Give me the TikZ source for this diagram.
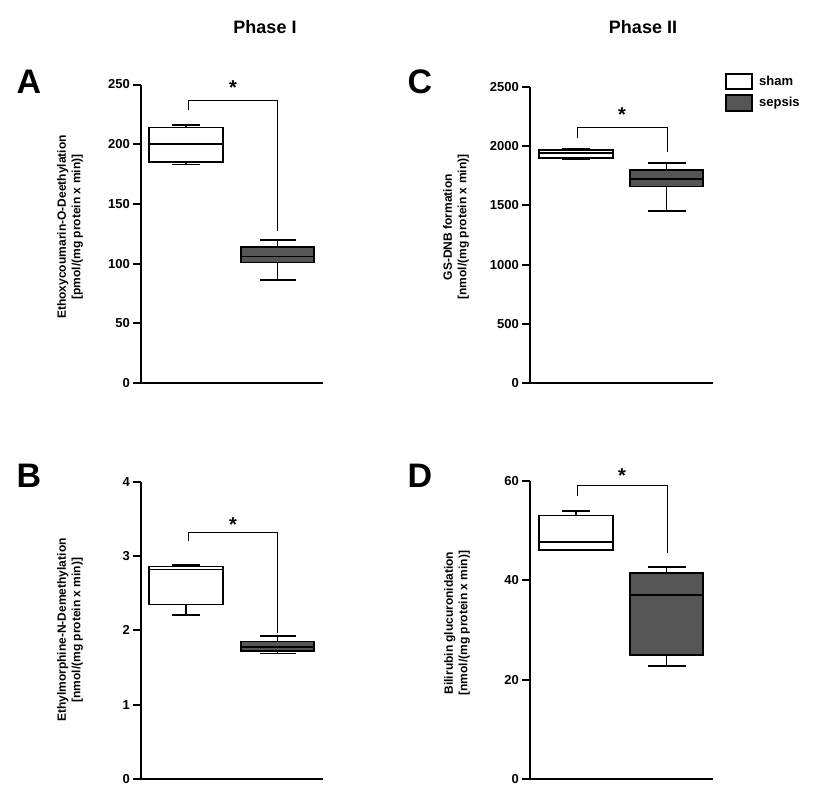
\documentclass[tikz,border=0pt]{standalone}
\usepackage{fontspec}
\setmainfont{Liberation Sans}
\usetikzlibrary{positioning}

\definecolor{sepsisgray}{HTML}{555555}

\tikzset{
  axis line/.style={line width=2pt},
  box line/.style={line width=1.8pt},
  bracket line/.style={line width=0.9pt},
  tick label/.style={anchor=east,font=\bfseries\fontsize{13}{13}\selectfont,inner sep=1pt},
  panel letter/.style={font=\bfseries\fontsize{34}{34}\selectfont},
  phase title/.style={font=\bfseries\fontsize{18}{18}\selectfont},
  axis title/.style={rotate=90,align=center,font=\bfseries\fontsize{12}{14.5}\selectfont},
  legend text/.style={anchor=west,font=\bfseries\fontsize{13}{13}\selectfont,inner sep=0pt}
}

% box plot: x0, x1, lower whisker, q1, median, q3, upper whisker, fill, cap half width
\newcommand{\bplot}[9]{%
  \draw[box line] ({(#1+#2)/2},#3) -- ({(#1+#2)/2},#7);
  \draw[box line] ({(#1+#2)/2-#9},#3) -- ({(#1+#2)/2+#9},#3);
  \draw[box line] ({(#1+#2)/2-#9},#7) -- ({(#1+#2)/2+#9},#7);
  \draw[box line,fill=#8] (#1,#4) rectangle (#2,#6);
  \draw[box line] (#1,#5) -- (#2,#5);
}

\begin{document}
\begin{tikzpicture}[x=1pt,y=-1pt]
  \useasboundingbox (0,0) rectangle (826,800);

  \node[phase title] (phaseI) at (265,27) {Phase I};
  \node[phase title] (phaseII) at (643,27) {Phase II};

  \node[panel letter] (A) at (29,82) {A};
  \node[panel letter] (B) at (29,476) {B};
  \node[panel letter] (C) at (420,82) {C};
  \node[panel letter] (D) at (420,476) {D};

  % legend
  \draw[box line] (726,74) rectangle (752,89);
  \draw[box line,fill=sepsisgray] (726,95) rectangle (752,111);
  \node[legend text] (sham) at (759,81) {sham};
  \node[legend text] (sepsis) at (759,103) {sepsis};

  % panel A
  \node[axis title] (ylabA) at (70,227) {Ethoxycoumarin-O-Deethylation\\{}[pmol/(mg protein x min)]};
  \begin{scope}[shift={(141,383)},y={(0pt,1.194pt)}]
    \draw[axis line] (0,250) -- (0,0) -- (182,0);
    \foreach \v in {0,50,...,250}{
      \draw[axis line] (-8,\v) -- (0,\v);
      \node[tick label] at (-10,\v) {\v};
    }
    \bplot{8}{82}{183}{185}{200}{214}{216}{white}{14}
    \bplot{100}{173}{86}{101}{106}{114}{120}{sepsisgray}{18}
    \coordinate (a1) at (47,229);
    \coordinate (a2) at (136,127);
    \draw[bracket line] (a1) -- (47,237) -- (136,237) -- (a2);
    \node[font=\bfseries\fontsize{20}{20}\selectfont] (starA) at (92,247) {*};
  \end{scope}

  % panel B
  \node[axis title] (ylabB) at (70,630) {Ethylmorphine-N-Demethylation\\{}[nmol/(mg protein x min)]};
  \begin{scope}[shift={(141,779)},y={(0pt,74.3pt)}]
    \draw[axis line] (0,4) -- (0,0) -- (182,0);
    \foreach \v in {0,1,2,3,4}{
      \draw[axis line] (-8,\v) -- (0,\v);
      \node[tick label] at (-10,\v) {\v};
    }
    \bplot{8}{82}{2.21}{2.35}{2.82}{2.86}{2.88}{white}{14}
    \bplot{100}{173}{1.69}{1.72}{1.78}{1.85}{1.93}{sepsisgray}{18}
    \coordinate (b1) at (47,3.2);
    \coordinate (b2) at (136,1.97);
    \draw[bracket line] (b1) -- (47,3.32) -- (136,3.32) -- (b2);
    \node[font=\bfseries\fontsize{20}{20}\selectfont] (starB) at (92,3.43) {*};
  \end{scope}

  % panel C
  \node[axis title] (ylabC) at (456,227) {GS-DNB formation\\{}[nmol/(mg protein x min)]};
  \begin{scope}[shift={(530,383)},y={(0pt,0.1184pt)}]
    \draw[axis line] (0,2500) -- (0,0) -- (183,0);
    \foreach \v in {0,500,...,2500}{
      \draw[axis line] (-8,\v) -- (0,\v);
      \node[tick label] at (-10,\v) {\v};
    }
    \bplot{9}{83}{1890}{1900}{1940}{1970}{1980}{white}{14}
    \bplot{100}{173}{1450}{1660}{1720}{1800}{1860}{sepsisgray}{19}
    \coordinate (c1) at (47,2070);
    \coordinate (c2) at (137,1950);
    \draw[bracket line] (c1) -- (47,2155) -- (137,2155) -- (c2);
    \node[font=\bfseries\fontsize{20}{20}\selectfont] (starC) at (92,2270) {*};
  \end{scope}

  % panel D
  \node[axis title] (ylabD) at (457,623) {Bilirubin glucuronidation\\{}[nmol/(mg protein x min)]};
  \begin{scope}[shift={(530,779)},y={(0pt,4.97pt)}]
    \draw[axis line] (0,60) -- (0,0) -- (183,0);
    \foreach \v in {0,20,40,60}{
      \draw[axis line] (-8,\v) -- (0,\v);
      \node[tick label] at (-10,\v) {\v};
    }
    \bplot{9}{83}{46}{46}{47.7}{53}{54}{white}{14}
    \bplot{100}{173}{22.7}{25}{37}{41.5}{42.7}{sepsisgray}{19}
    \coordinate (d1) at (47,57);
    \coordinate (d2) at (137,45.5);
    \draw[bracket line] (d1) -- (47,59) -- (137,59) -- (d2);
    \node[font=\bfseries\fontsize{20}{20}\selectfont] (starD) at (92,61) {*};
  \end{scope}
\end{tikzpicture}
\end{document}
